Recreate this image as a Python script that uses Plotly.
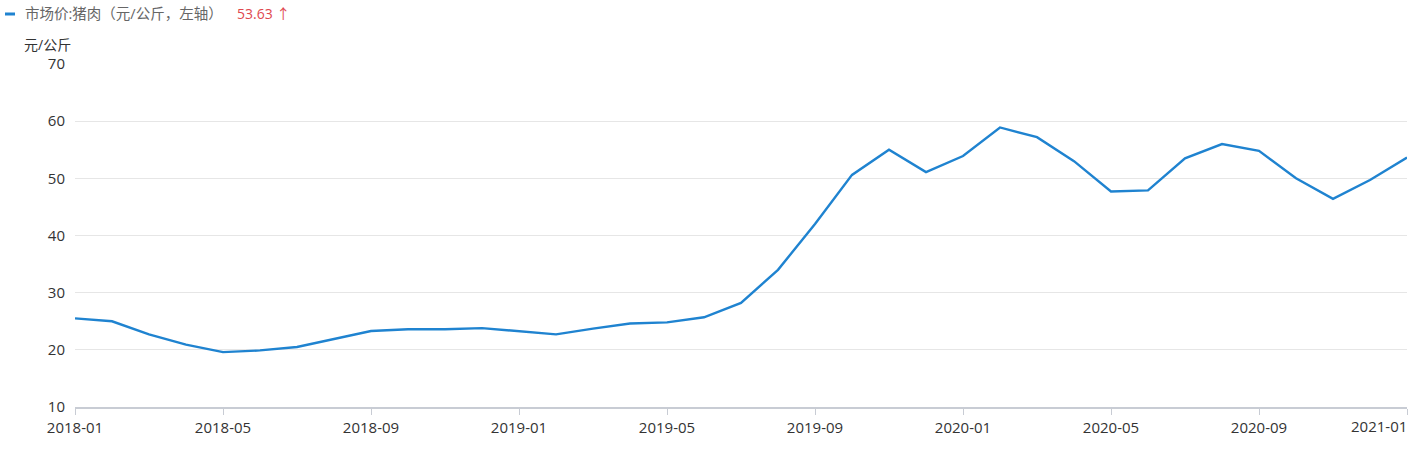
import plotly.graph_objects as go

months = ["2018-01","2018-02","2018-03","2018-04","2018-05","2018-06","2018-07","2018-08","2018-09","2018-10","2018-11","2018-12",
          "2019-01","2019-02","2019-03","2019-04","2019-05","2019-06","2019-07","2019-08","2019-09","2019-10","2019-11","2019-12",
          "2020-01","2020-02","2020-03","2020-04","2020-05","2020-06","2020-07","2020-08","2020-09","2020-10","2020-11","2020-12",
          "2021-01"]
pork_price = [25.5, 25.0, 22.7, 20.9, 19.6, 19.9, 20.5, 21.9, 23.3, 23.6, 23.6, 23.8,
              23.3, 22.7, 23.7, 24.6, 24.8, 25.7, 28.2, 34.0, 42.0, 50.6, 55.0, 51.1,
              53.9, 58.9, 57.2, 53.0, 47.7, 47.9, 53.5, 56.0, 54.8, 50.0, 46.4, 49.7,
              53.63]
tick_months = ["2018-01","2018-05","2018-09","2019-01","2019-05","2019-09","2020-01","2020-05","2020-09","2021-01"]
series_name = "市场价:猪肉（元/公斤，左轴）"
last_value = "53.63 ↑"
y_unit = "元/公斤"

FONT = "Open Sans, Noto Sans CJK SC, sans-serif"
BLUE = "#1f83d0"
PW, PH = 1332, 343

# last tick label is drawn as an annotation so it stays inside the page
tick_text = tick_months[:-1] + [""]

fig = go.Figure()
fig.add_trace(go.Scatter(x=months, y=pork_price, mode="lines",
                         line=dict(color=BLUE, width=2.4), name=series_name,
                         showlegend=False))

fig.update_layout(
    width=1427, height=453,
    margin=dict(l=75, r=20, t=64, b=46, autoexpand=False),
    paper_bgcolor="white", plot_bgcolor="white",
    font=dict(family=FONT, size=15, color="#333333"),
    xaxis=dict(type="category", range=[0, len(months) - 1], automargin=False,
               tickvals=tick_months, ticktext=tick_text,
               showgrid=False, showline=True, linecolor="#c8ccd4", linewidth=1.5,
               ticks="outside", ticklen=6, tickcolor="#c8ccd4", tickwidth=1,
               tickfont=dict(size=15, color="#333333"), zeroline=False),
    yaxis=dict(range=[10, 70], dtick=10, showgrid=True, gridcolor="#e6e6e6", gridwidth=1,
               automargin=False,
               zeroline=False, showline=False, ticks="", ticklabelstandoff=9,
               tickfont=dict(size=15, color="#333333")),
    shapes=[dict(type="line", xref="paper", yref="paper",
                 x0=-70/PW, x1=-60/PW, y0=1 + 50/PH, y1=1 + 50/PH,
                 line=dict(color=BLUE, width=3))],
    annotations=[
        dict(text=series_name, xref="paper", yref="paper",
             x=-52/PW, y=1 + 50/PH, xanchor="left", yanchor="middle",
             showarrow=False, font=dict(size=14.5, color="#666666")),
        dict(text=last_value, xref="paper", yref="paper",
             x=160/PW, y=1 + 50/PH, xanchor="left", yanchor="middle",
             showarrow=False, font=dict(size=14, color="#e0484e")),
        dict(text=y_unit, xref="paper", yref="paper",
             x=-2/PW, y=1 + 20/PH, xanchor="right", yanchor="middle",
             showarrow=False, font=dict(size=14, color="#333333")),
        dict(text=tick_months[-1], xref="x", yref="paper",
             x=tick_months[-1], y=-19/PH, xanchor="right", yanchor="middle",
             xshift=2, showarrow=False, font=dict(size=15, color="#333333")),
    ],
)

fig.write_html("out.html", config={"displayModeBar": False},
               post_script="document.body.style.margin='0';")
